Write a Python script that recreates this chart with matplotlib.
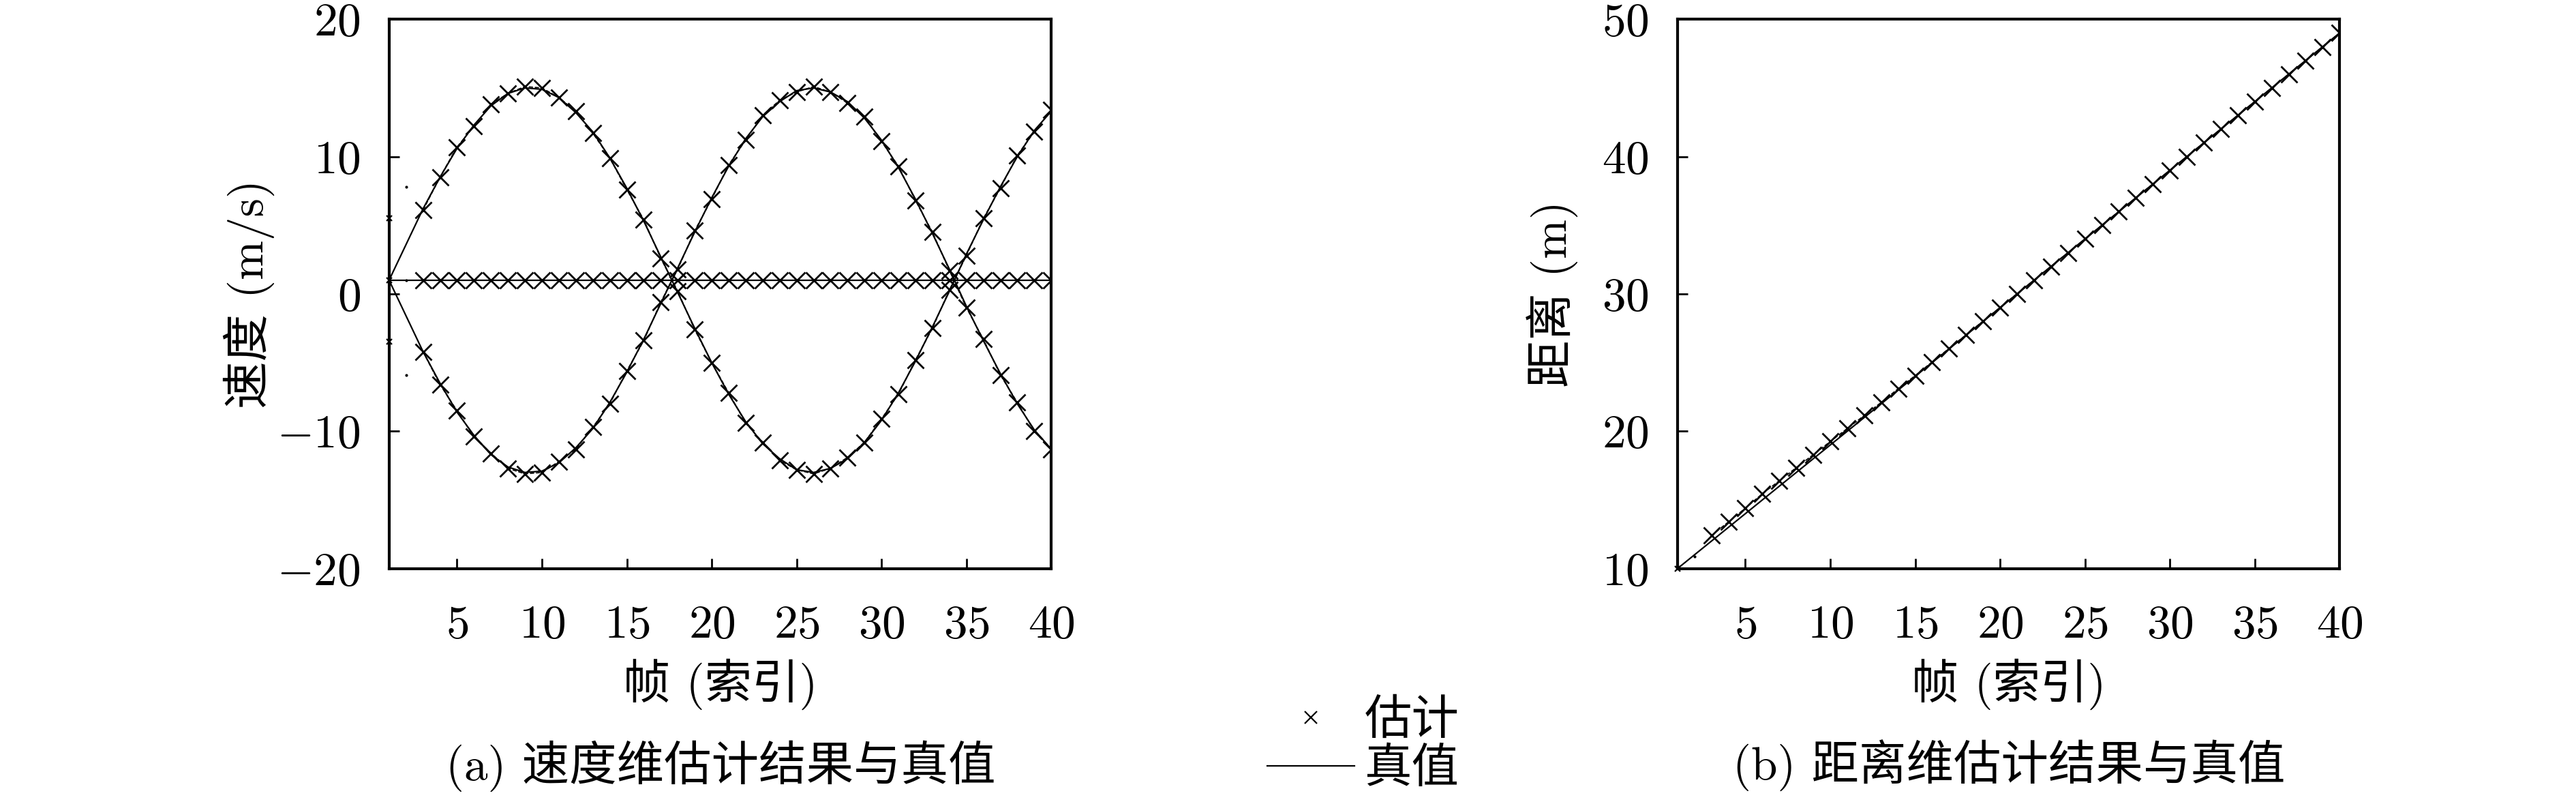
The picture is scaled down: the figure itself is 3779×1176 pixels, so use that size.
import matplotlib
matplotlib.use("Agg")
import matplotlib.pyplot as plt
from matplotlib.lines import Line2D

# === data ===
frames = list(range(1, 41))

# velocity truth (m/s), three targets
vel_true_a = [1.0, 3.6, 6.2, 8.5, 10.6, 12.3, 13.7, 14.6, 15.0, 14.9,
              14.3, 13.2, 11.8, 9.9, 7.7, 5.3, 2.7, 0.1, -2.5, -5.0,
              -7.3, -9.3, -10.9, -12.0, -12.8, -13.0, -12.7, -12.0, -10.8, -9.2,
              -7.2, -4.9, -2.4, 0.2, 2.9, 5.4, 7.8, 10.0, 11.9, 13.3]
vel_true_b = [1.0, -1.6, -4.2, -6.5, -8.6, -10.3, -11.7, -12.6, -13.0, -12.9,
              -12.3, -11.2, -9.8, -7.9, -5.7, -3.3, -0.7, 1.9, 4.5, 7.0,
              9.3, 11.3, 12.9, 14.0, 14.8, 15.0, 14.7, 14.0, 12.8, 11.2,
              9.2, 6.9, 4.4, 1.8, -0.9, -3.4, -5.8, -8.0, -9.9, -11.3]
vel_true_c = [1.0] * 40

# velocity estimates from frame 3 on
vel_est_a = [6.1, 8.5, 10.7, 12.2, 13.8, 14.6, 15.1, 15.0,
             14.3, 13.3, 11.7, 9.9, 7.6, 5.4, 2.6, 0.2, -2.6, -5.0,
             -7.2, -9.4, -10.8, -12.1, -12.8, -13.1, -12.7, -11.9, -10.8, -9.1,
             -7.3, -4.8, -2.5, 0.3, 2.8, 5.5, 7.7, 10.1, 11.8, 13.4]
vel_est_b = [-4.2, -6.6, -8.5, -10.4, -11.6, -12.7, -13.1, -13.0,
             -12.2, -11.3, -9.7, -8.0, -5.6, -3.4, -0.6, 1.8, 4.6, 6.9,
             9.4, 11.2, 13.0, 14.1, 14.7, 15.1, 14.7, 13.9, 12.9, 11.1,
             9.3, 6.8, 4.5, 1.7, -1.0, -3.3, -5.9, -7.9, -10.0, -11.3]
vel_est_c = [1.0] * 38
# first two frames (not yet converged)
vel_est_f1 = [5.5, 1.0, -3.5]
vel_est_f2 = [7.8, 1.0, -5.9]

# distance (m)
dist_true = [10, 11, 12, 13, 14, 15, 16, 17, 18, 19,
             20, 21, 22, 23, 24, 25, 26, 27, 28, 29,
             30, 31, 32, 33, 34, 35, 36, 37, 38, 39,
             40, 41, 42, 43, 44, 45, 46, 47, 48, 49]
dist_est = [12.4, 13.4, 14.4, 15.45, 16.4, 17.35, 18.3, 19.25,
            20.2, 21.15, 22.1, 23.1, 24.05, 25.05, 26.03, 27.02, 28.02, 29.01,
            30.01, 31.0, 32.0, 33.0, 34.0, 35.0, 36.0, 37.0, 38.0, 39.0,
            40.0, 41.0, 42.0, 43.0, 44.0, 45.0, 46.0, 47.0, 48.0, 49.0]
dist_est_f1 = 10.0
dist_est_f2 = 10.9

# === style ===
plt.rcParams["font.family"] = ["cmr10", "Noto Sans CJK SC"]
plt.rcParams["mathtext.fontset"] = "cm"
plt.rcParams["axes.formatter.use_mathtext"] = True
plt.rcParams["font.size"] = 50
plt.rcParams["axes.unicode_minus"] = True

fig = plt.figure(figsize=(37.8, 11.76), dpi=100)
ax1 = fig.add_axes([0.151, 0.291, 0.257, 0.685])
ax2 = fig.add_axes([0.651, 0.291, 0.257, 0.685])

est_kw = dict(color="k", ls="--", lw=1.2, marker="x", ms=17, mew=2.0)

# === velocity ===
for tr in (vel_true_a, vel_true_b, vel_true_c):
    ax1.plot(frames, tr, color="k", lw=1.6)
for est in (vel_est_a, vel_est_b, vel_est_c):
    ax1.plot(frames[2:], est, **est_kw)
ax1.plot([1] * 3, vel_est_f1, ls="none", marker="x", color="k", ms=6, mew=1.6, clip_on=False)
ax1.plot([2] * 3, vel_est_f2, ls="none", marker=".", color="k", ms=4)
ax1.set_xlim(1, 40)
ax1.set_ylim(-20, 20)
ax1.set_yticks([-20, -10, 0, 10, 20])
ax1.set_ylabel("速度 (m/s)", va="center")
ax1.yaxis.set_label_coords(-0.211, 0.5)

# === distance ===
ax2.plot(frames, dist_true, color="k", lw=1.6)
ax2.plot(frames[2:], dist_est, **est_kw)
ax2.plot([1], [dist_est_f1], ls="none", marker="x", color="k", ms=6, mew=1.6, clip_on=False)
ax2.plot([2], [dist_est_f2], ls="none", marker=".", color="k", ms=4)
ax2.set_xlim(1, 40)
ax2.set_ylim(10, 50)
ax2.set_yticks([10, 20, 30, 40, 50])
ax2.set_ylabel("距离 (m)", va="center")
ax2.yaxis.set_label_coords(-0.188, 0.5)

for ax in (ax1, ax2):
    ax.set_xticks([5, 10, 15, 20, 25, 30, 35, 40])
    ax.set_xlabel("帧 (索引)", va="center")
    ax.xaxis.set_label_coords(0.5, -0.21)
    ax.tick_params(direction="in", length=11, width=2, top=False, right=False)
    ax.tick_params(axis="x", pad=38)
    ax.tick_params(axis="y", pad=30)
    for sp in ax.spines.values():
        sp.set_linewidth(3)

# captions
fig.text(0.2796, 0.045, "(a) 速度维估计结果与真值", ha="center", va="center")
fig.text(0.7796, 0.045, "(b) 距离维估计结果与真值", ha="center", va="center")

# shared legend
handles = [Line2D([], [], ls="none", marker="x", color="k", ms=13, mew=1.6),
           Line2D([], [], color="k", lw=1.6)]
fig.legend(handles, ["估计", "真值"], loc="center", bbox_to_anchor=(0.529, 0.071),
           frameon=False, handlelength=1.85, handletextpad=0.2, labelspacing=0.1,
           borderpad=0, borderaxespad=0)

fig.savefig("out.png", dpi=100)
